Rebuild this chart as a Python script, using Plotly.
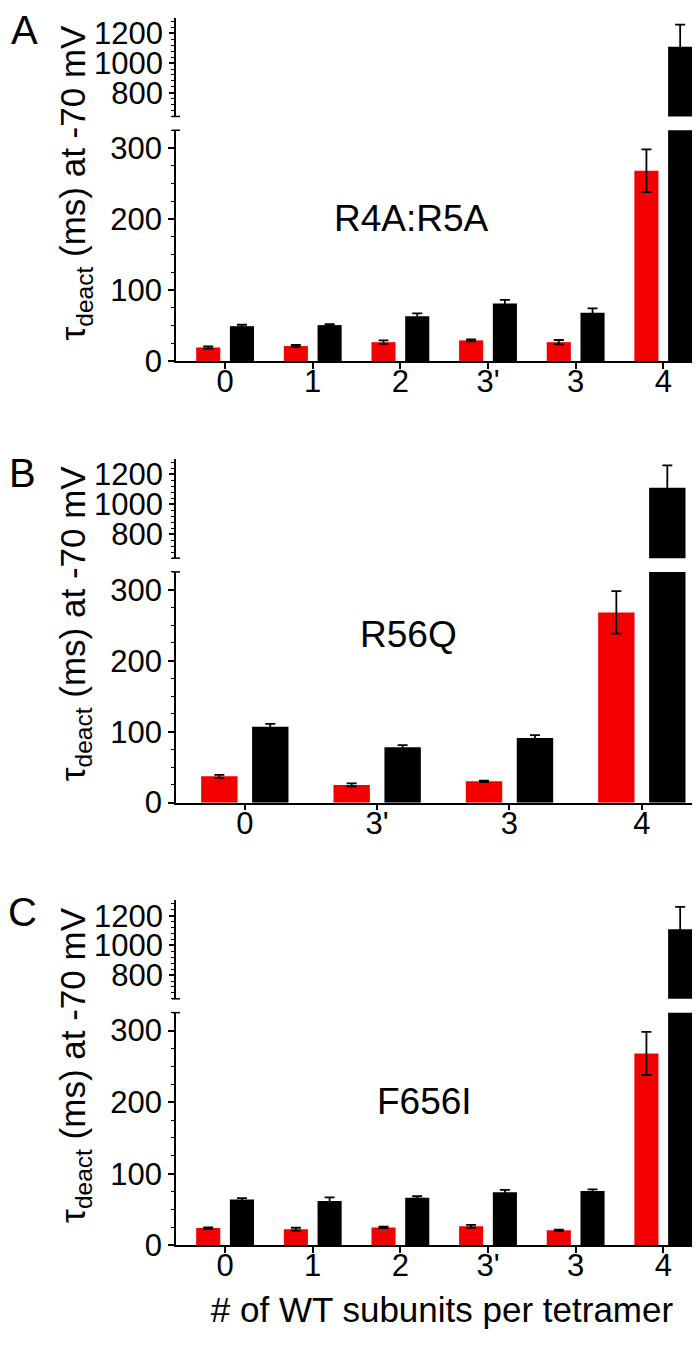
import plotly.graph_objects as go

# ---------------- data ----------------
cats_a = ["0", "1", "2", "3'", "3", "4"]
cats_b = ["0", "3'", "3", "4"]
cats_c = ["0", "1", "2", "3'", "3", "4"]

a_red = [19, 21, 26.5, 29, 26.5, 268]
a_red_err = [1.5, 1.5, 2.5, 1.5, 3, 30]
a_black = [49, 50.5, 63, 81, 68, 1110]
a_black_err = [2, 1.5, 4, 5, 6, 150]

b_red = [37, 25, 30, 268]
b_red_err = [2, 2, 1, 30]
b_black = [107, 78, 91, 1110]
b_black_err = [4, 3, 4, 150]

c_red = [24, 22.5, 25, 26.5, 21, 268]
c_red_err = [1, 2, 1, 2, 1, 30]
c_black = [64, 62, 66.5, 74, 76, 1110]
c_black_err = [2, 5, 2, 3.5, 2, 150]

mutant_labels = ["R4A:R5A", "R56Q", "F656I"]
panel_letters = ["A", "B", "C"]
lower_ticks = [0, 100, 200, 300]
upper_ticks = [800, 1000, 1200]
x_title = "# of WT subunits per tetramer"
y_title = "τ<sub>deact</sub> (ms) at -70 mV"

# ---------------- layout geometry (pixels) ----------------
W, H = 700, 1346
FONT = "Liberation Sans, Arial, sans-serif"
RED = "#f50000"
X_LEFT = 168

panels = [
    dict(cats=cats_a, red=a_red, red_err=a_red_err, black=a_black, black_err=a_black_err,
         lower=(357, 123), upper=(109, 9), xrange=[-0.56, 5.51], label_xy=(403, 212),
         letter_xy=(16, 21), title_y=176),
    dict(cats=cats_b, red=b_red, red_err=b_red_err, black=b_black, black_err=b_black_err,
         lower=(805, 571), upper=(557, 456), xrange=[-0.52, 3.5], label_xy=(400, 634),
         letter_xy=(14, 471), title_y=623),
    dict(cats=cats_c, red=c_red, red_err=c_red_err, black=c_black, black_err=c_black_err,
         lower=(1254, 1018), upper=(1004, 904), xrange=[-0.56, 5.51], label_xy=(416, 1108),
         letter_xy=(14, 916), title_y=1071),
]


def py(pix):
    return 1 - pix / H


fig = go.Figure()
layout = dict(width=W, height=H, margin=dict(l=0, r=0, t=0, b=0),
              paper_bgcolor="white", plot_bgcolor="white", showlegend=False,
              barmode="overlay", font=dict(family=FONT, color="black"))
shapes = []
annotations = []

for i, p in enumerate(panels):
    xname = "x" if i == 0 else f"x{i + 1}"
    ylo = f"y{2 * i + 1}" if i > 0 else "y"
    yup = f"y{2 * i + 2}"
    xkey = "xaxis" if i == 0 else f"xaxis{i + 1}"
    ylokey = "yaxis" if i == 0 else f"yaxis{2 * i + 1}"
    yupkey = f"yaxis{2 * i + 2}"

    for ya in (ylo, yup):
        fig.add_trace(go.Bar(
            x=p["cats"], y=p["red"], width=0.275, offset=-0.33,
            marker=dict(color=RED, line=dict(width=0)),
            error_y=dict(type="data", array=p["red_err"], color="black", thickness=1.8, width=5),
            xaxis=xname, yaxis=ya, hoverinfo="skip"))
        fig.add_trace(go.Bar(
            x=p["cats"], y=p["black"], width=0.275, offset=0.055,
            marker=dict(color="black", line=dict(width=0)),
            error_y=dict(type="data", array=p["black_err"], color="black", thickness=1.8, width=5),
            xaxis=xname, yaxis=ya, hoverinfo="skip"))

    xa = dict(domain=[X_LEFT / W, 1.0], range=p["xrange"], type="category",
              categoryorder="array", categoryarray=p["cats"],
              anchor=ylo, showline=True, linecolor="black", linewidth=1.5,
              ticks="outside", ticklen=6, tickwidth=1.5, tickcolor="black",
              ticklabelstandoff=-14,
              tickfont=dict(size=31, family=FONT, color="black"),
              showgrid=False, zeroline=False, fixedrange=True)
    if i == 2:
        xa["title"] = dict(text=x_title, font=dict(size=35, family=FONT, color="black"), standoff=15)
    layout[xkey] = xa

    lo_dom = [py(p["lower"][0]), py(p["lower"][1])]
    up_dom = [py(p["upper"][0]), py(p["upper"][1])]
    layout[ylokey] = dict(domain=lo_dom, range=[0, 325], anchor=xname,
                          tickmode="array", tickvals=lower_ticks,
                          showline=True, linecolor="black", linewidth=1.5,
                          ticks="outside", ticklen=6, tickwidth=1.5, tickcolor="black",
                          minor=dict(tickmode="linear", tick0=0, dtick=25, ticks="outside",
                                     ticklen=3, tickwidth=1.2, tickcolor="black"),
                          tickfont=dict(size=31, family=FONT, color="black"),
                          showgrid=False, zeroline=False, fixedrange=True)
    layout[yupkey] = dict(domain=up_dom, range=[640, 1305], anchor=xname,
                          tickmode="array", tickvals=upper_ticks,
                          showline=True, linecolor="black", linewidth=1.5,
                          ticks="outside", ticklen=5, tickwidth=1.5, tickcolor="black",
                          minor=dict(tickmode="linear", tick0=0, dtick=40, ticks="outside",
                                     ticklen=3, tickwidth=1.2, tickcolor="black"),
                          tickfont=dict(size=31, family=FONT, color="black"),
                          showgrid=False, zeroline=False, fixedrange=True)

    # axis-break caps
    for yy in (lo_dom[1], up_dom[0]):
        shapes.append(dict(type="line", xref="paper", yref="paper",
                           x0=(X_LEFT - 4) / W, x1=(X_LEFT + 4) / W, y0=yy, y1=yy,
                           line=dict(color="black", width=1.5)))

    annotations.append(dict(text=mutant_labels[i], x=p["label_xy"][0] / W,
                            y=py(p["label_xy"][1]), xref="paper", yref="paper",
                            showarrow=False, xanchor="center", yanchor="middle",
                            font=dict(size=37, family=FONT, color="black")))
    annotations.append(dict(text=panel_letters[i], x=p["letter_xy"][0] / W,
                            y=py(p["letter_xy"][1]), xref="paper", yref="paper",
                            showarrow=False, xanchor="center", yanchor="middle",
                            font=dict(size=40, family=FONT, color="black")))
    annotations.append(dict(text=y_title, x=67 / W, y=py(p["title_y"]),
                            xref="paper", yref="paper", textangle=-90,
                            showarrow=False, xanchor="center", yanchor="middle",
                            font=dict(size=35, family=FONT, color="black")))

layout["shapes"] = shapes
layout["annotations"] = annotations
fig.update_layout(**layout)
fig.write_html("out.html")
